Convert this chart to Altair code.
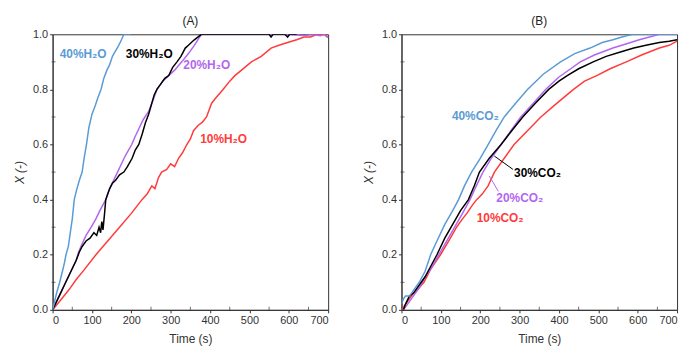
import altair as alt
import pandas as pd

# ---------------- Panel A (H2O) ----------------
a40_t = [0, 5, 10, 18, 25, 30, 34, 40, 45, 50, 55, 60, 68, 75, 80, 86, 92, 100, 108, 115, 123, 130, 138, 145, 152, 160, 168, 175, 181, 198]
a40_x = [0, 0.03, 0.06, 0.10, 0.14, 0.17, 0.20, 0.23, 0.28, 0.33, 0.40, 0.43, 0.47, 0.50, 0.55, 0.60, 0.66, 0.71, 0.74, 0.77, 0.80, 0.84, 0.87, 0.89, 0.92, 0.94, 0.96, 0.98, 1.0, 1.0]

a30_t = [0, 10, 20, 30, 40, 50, 60, 68, 75, 85, 95, 105, 112, 118, 122, 125, 128, 132, 135, 140, 145, 152, 160, 170, 181, 190, 202, 210, 219, 228, 236, 244, 250, 258, 265, 275, 285, 295, 305, 316, 326, 337, 345, 360, 378, 420, 500, 550, 555, 560, 590, 597, 602, 620]
a30_x = [0, 0.03, 0.06, 0.09, 0.12, 0.15, 0.18, 0.21, 0.23, 0.25, 0.26, 0.28, 0.27, 0.30, 0.28, 0.32, 0.29, 0.35, 0.40, 0.42, 0.44, 0.46, 0.47, 0.49, 0.50, 0.52, 0.55, 0.58, 0.60, 0.64, 0.68, 0.71, 0.74, 0.78, 0.80, 0.82, 0.84, 0.85, 0.88, 0.90, 0.92, 0.95, 0.96, 0.98, 1.0, 1.0, 1.0, 1.0, 0.99, 1.0, 1.0, 0.99, 1.0, 1.0]

a20_t = [0, 10, 20, 30, 40, 50, 60, 66, 75, 85, 98, 110, 120, 135, 145, 155, 165, 175, 185, 201, 210, 220, 230, 244, 255, 265, 280, 295, 310, 328, 345, 360, 378, 450, 600, 640, 660, 680, 690, 697, 700]
a20_x = [0, 0.03, 0.06, 0.09, 0.12, 0.15, 0.18, 0.21, 0.24, 0.27, 0.30, 0.33, 0.36, 0.40, 0.44, 0.47, 0.50, 0.53, 0.56, 0.60, 0.63, 0.66, 0.69, 0.72, 0.76, 0.80, 0.83, 0.85, 0.87, 0.90, 0.93, 0.96, 1.0, 1.0, 1.0, 0.995, 1.0, 0.995, 1.0, 0.99, 0.99]

a10_t = [0, 20, 40, 60, 80, 110, 140, 170, 200, 227, 240, 252, 260, 269, 277, 290, 300, 310, 320, 330, 341, 350, 358, 370, 380, 391, 404, 415, 433, 450, 463, 480, 505, 530, 555, 575, 597, 620, 639, 655, 672, 690, 700]
a10_x = [0, 0.035, 0.07, 0.11, 0.145, 0.20, 0.25, 0.30, 0.35, 0.40, 0.42, 0.45, 0.44, 0.48, 0.50, 0.51, 0.53, 0.52, 0.55, 0.57, 0.60, 0.62, 0.65, 0.67, 0.68, 0.70, 0.75, 0.77, 0.80, 0.83, 0.85, 0.87, 0.90, 0.92, 0.95, 0.96, 0.97, 0.98, 0.99, 0.99, 1.0, 1.0, 0.99]

# ---------------- Panel B (CO2) ----------------
b40_t = [0, 5, 10, 20, 30, 45, 60, 74, 90, 110, 130, 145, 160, 178, 200, 220, 240, 261, 290, 320, 360, 404, 440, 479, 510, 537, 560, 587, 650, 700]
b40_x = [0.02, 0.04, 0.05, 0.05, 0.07, 0.10, 0.14, 0.20, 0.25, 0.31, 0.36, 0.40, 0.45, 0.50, 0.55, 0.60, 0.65, 0.70, 0.75, 0.80, 0.855, 0.90, 0.93, 0.95, 0.97, 0.98, 0.99, 1.0, 1.0, 1.0]

b30_t = [5, 10, 20, 30, 45, 60, 75, 90, 110, 130, 150, 170, 185, 198, 223, 253, 280, 308, 340, 374, 400, 421, 450, 487, 520, 554, 590, 621, 655, 680, 700]
b30_x = [0.0, 0.02, 0.05, 0.06, 0.09, 0.12, 0.16, 0.20, 0.26, 0.31, 0.36, 0.40, 0.45, 0.50, 0.55, 0.60, 0.65, 0.70, 0.75, 0.80, 0.83, 0.85, 0.875, 0.90, 0.92, 0.935, 0.95, 0.96, 0.97, 0.975, 0.98]

b20_t = [5, 15, 30, 45, 60, 75, 95, 115, 135, 155, 174, 190, 207, 228, 253, 278, 303, 335, 366, 400, 430, 454, 490, 537, 570, 604, 630, 655, 700]
b20_x = [0.0, 0.02, 0.05, 0.08, 0.12, 0.15, 0.20, 0.25, 0.30, 0.35, 0.40, 0.45, 0.50, 0.55, 0.60, 0.65, 0.70, 0.75, 0.80, 0.845, 0.875, 0.90, 0.925, 0.95, 0.965, 0.98, 0.99, 1.0, 1.0]

b10_t = [0, 15, 30, 45, 57, 75, 99, 120, 140, 155, 166, 180, 191, 205, 220, 236, 261, 286, 320, 354, 395, 437, 465, 496, 530, 571, 610, 655, 680, 700]
b10_x = [0.0, 0.03, 0.06, 0.08, 0.10, 0.15, 0.20, 0.25, 0.30, 0.33, 0.35, 0.38, 0.40, 0.42, 0.45, 0.50, 0.55, 0.60, 0.65, 0.70, 0.75, 0.80, 0.83, 0.85, 0.875, 0.90, 0.925, 0.95, 0.96, 0.975]

series_keys = ["10%", "20%", "30%", "40%"]
series_colors = ["#FF3B3B", "#B266F0", "#000000", "#5B9BD5"]

a_labels = ["10%H₂O", "20%H₂O", "30%H₂O", "40%H₂O"]
a_label_t = [375, 332, 186, 18]
a_label_x = [0.62, 0.89, 0.93, 0.93]

b_labels = ["10%CO₂", "20%CO₂", "30%CO₂", "40%CO₂"]
b_label_t = [191, 241, 286, 128]
b_label_x = [0.335, 0.406, 0.496, 0.705]

# leader lines in panel B (30% and 20%)
lead_keys = ["30%", "20%"]
lead_t1 = [236, 223]
lead_x1 = [0.558, 0.486]
lead_t2 = [283, 246]
lead_x2 = [0.51, 0.43]

x_ticks = [0, 100, 200, 300, 400, 500, 600, 700]
y_ticks = [0, 0.2, 0.4, 0.6, 0.8, 1.0]
x_minor = [50, 150, 250, 350, 450, 550, 650]
y_minor = [0.1, 0.3, 0.5, 0.7, 0.9]

FONT = "Liberation Sans"
W = 278
H = 278


def make_df(parts):
    rows = []
    for key, ts, xs in parts:
        for i, (t, x) in enumerate(zip(ts, xs)):
            rows.append({"s": key, "t": t, "X": x, "o": i})
    return pd.DataFrame(rows)


color_scale = alt.Scale(domain=series_keys, range=series_colors)
xscale = alt.Scale(domain=[0, 700], nice=False)
yscale = alt.Scale(domain=[0, 1], nice=False)

xaxis = alt.Axis(title="Time (s)", values=x_ticks, format="d", labelOverlap=False,
                 grid=False, titlePadding=8)
yaxis = alt.Axis(title="X (-)", values=y_ticks, format=".1f", grid=False,
                 titleFontStyle="italic", labelOverlap=False, titlePadding=6)

X_ENC = dict(scale=xscale, axis=xaxis)
Y_ENC = dict(scale=yscale, axis=yaxis)


def panel(df, labels, lt, lx, title, leaders=None):
    lines = alt.Chart(df).mark_line(strokeWidth=1.5, clip=True).encode(
        x=alt.X("t:Q", **X_ENC), y=alt.Y("X:Q", **Y_ENC),
        color=alt.Color("s:N", scale=color_scale, legend=None),
        detail="s:N", order="o:Q",
    )
    ldf = pd.DataFrame({"s": series_keys, "label": labels, "t": lt, "X": lx})
    texts = alt.Chart(ldf).mark_text(
        align="left", baseline="middle", fontSize=12, fontWeight="bold", font=FONT
    ).encode(
        x=alt.X("t:Q", **X_ENC), y=alt.Y("X:Q", **Y_ENC),
        text="label:N",
        color=alt.Color("s:N", scale=color_scale, legend=None),
    )
    xm = alt.Chart(pd.DataFrame({"t": x_minor})).mark_tick(
        color="#333333", thickness=1, size=4
    ).encode(x=alt.X("t:Q", **X_ENC), y=alt.value(H - 1))
    ym = alt.Chart(pd.DataFrame({"X": y_minor})).mark_tick(
        color="#333333", thickness=1, size=4
    ).encode(y=alt.Y("X:Q", **Y_ENC), x=alt.value(1))
    layers = [lines, texts, xm, ym]
    if leaders is not None:
        rl = alt.Chart(leaders).mark_rule(strokeWidth=1).encode(
            x=alt.X("t:Q", **X_ENC), y=alt.Y("X:Q", **Y_ENC),
            x2="t2:Q", y2="X2:Q",
            color=alt.Color("s:N", scale=color_scale, legend=None),
        )
        layers.append(rl)
    return alt.layer(*layers).properties(
        width=W, height=H,
        title=alt.TitleParams(title, fontSize=12, fontWeight="normal", font=FONT,
                              offset=0, color="#222222"),
    )


dfA = make_df([("10%", a10_t, a10_x), ("20%", a20_t, a20_x), ("30%", a30_t, a30_x), ("40%", a40_t, a40_x)])
dfB = make_df([("10%", b10_t, b10_x), ("20%", b20_t, b20_x), ("30%", b30_t, b30_x), ("40%", b40_t, b40_x)])
lead_df = pd.DataFrame({"s": lead_keys, "t": lead_t1, "X": lead_x1, "t2": lead_t2, "X2": lead_x2})

chart = alt.hconcat(
    panel(dfA, a_labels, a_label_t, a_label_x, "(A)"),
    panel(dfB, b_labels, b_label_t, b_label_x, "(B)", lead_df),
    spacing=33,
).configure_view(
    stroke="#333333", strokeWidth=1
).configure_axis(
    grid=False, domainColor="#333333", tickColor="#333333", tickSize=3,
    labelFont=FONT, titleFont=FONT, labelFontSize=11, titleFontSize=12,
    labelColor="#333333", titleColor="#333333", titleFontWeight="normal",
    labelPadding=2,
)

chart.save("out.html", embed_options={"renderer": "svg", "actions": False})
